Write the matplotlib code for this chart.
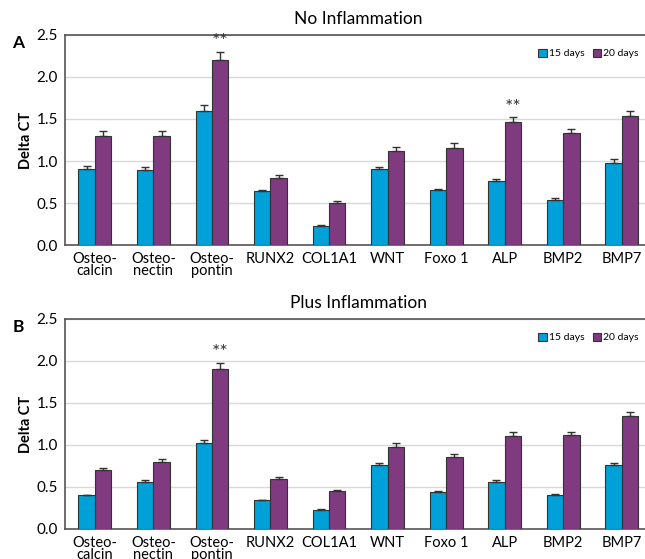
import numpy as np
import matplotlib
matplotlib.use("Agg")
import matplotlib.pyplot as plt

plt.rcParams["font.family"] = ["Lato", "DejaVu Sans"]

genes = ["Osteo-\ncalcin", "Osteo-\nnectin", "Osteo-\npontin", "RUNX2", "COL1A1",
         "WNT", "Foxo 1", "ALP", "BMP2", "BMP7"]

# No inflammation
a_15 = [0.90, 0.89, 1.60, 0.64, 0.23, 0.90, 0.65, 0.76, 0.54, 0.98]
a_20 = [1.30, 1.30, 2.20, 0.80, 0.50, 1.12, 1.16, 1.46, 1.33, 1.54]
a_15_err = [0.04, 0.04, 0.07, 0.02, 0.005, 0.03, 0.02, 0.03, 0.02, 0.04]
a_20_err = [0.06, 0.06, 0.10, 0.03, 0.02, 0.05, 0.05, 0.06, 0.05, 0.06]
a_sig = [2, 7]

# Plus inflammation
b_15 = [0.40, 0.56, 1.02, 0.34, 0.23, 0.76, 0.44, 0.56, 0.41, 0.76]
b_20 = [0.70, 0.80, 1.90, 0.60, 0.45, 0.98, 0.86, 1.11, 1.12, 1.34]
b_15_err = [0.01, 0.02, 0.04, 0.01, 0.005, 0.03, 0.01, 0.02, 0.01, 0.03]
b_20_err = [0.03, 0.03, 0.08, 0.02, 0.015, 0.04, 0.03, 0.05, 0.04, 0.05]
b_sig = [2]

BLUE = "#00a0d8"
PURPLE = "#7f3a80"
EDGE = "#333333"


def panel(ax, v15, v20, e15, e20, sig, title, letter):
    x = np.arange(len(genes))
    w = 0.28
    ax.bar(x - w / 2, v15, w, color=BLUE, edgecolor=EDGE, linewidth=0.8,
           yerr=[np.zeros(len(e15)), e15], capsize=3,
           error_kw=dict(ecolor=EDGE, elinewidth=1, capthick=1), label="15 days", zorder=3)
    ax.bar(x + w / 2, v20, w, color=PURPLE, edgecolor=EDGE, linewidth=0.8,
           yerr=[np.zeros(len(e20)), e20], capsize=3,
           error_kw=dict(ecolor=EDGE, elinewidth=1, capthick=1), label="20 days", zorder=3)
    # significance marks above the 20-day bars
    for i in sig:
        ax.text(i + w / 2, v20[i] + e20[i] + 0.02, "**", ha="center", va="bottom",
                fontsize=14, color="#333333")

    ax.set_xlim(-0.51, 9.5)
    ax.set_ylim(0, 2.5)
    ax.set_yticks([0, 0.5, 1.0, 1.5, 2.0, 2.5])
    ax.set_yticklabels(["0.0", "0.5", "1.0", "1.5", "2.0", "2.5"])
    ax.set_xticks(x)
    ax.set_xticklabels(genes, linespacing=0.85)
    ax.tick_params(length=0, labelsize=10.5, pad=5)
    ax.tick_params(axis="y", labelsize=11)
    ax.grid(axis="y", color="#d9d9d9", linewidth=1, zorder=0)
    for s in ["left", "top", "bottom"]:
        ax.spines[s].set_color("#555555")
        ax.spines[s].set_linewidth(1.2)
    ax.spines["right"].set_visible(False)
    ax.set_ylabel("Delta CT", fontweight="bold", fontsize=10.5, labelpad=3)
    ax.set_title(title, fontsize=12.5, pad=8)
    ax.text(-0.08, 1.0, letter, transform=ax.transAxes, fontsize=12.5,
            fontweight="bold", ha="center", va="top")
    ax.legend(loc="upper right", bbox_to_anchor=(0.995, 0.98), ncol=2, frameon=False,
              fontsize=7.5, handlelength=0.8, handleheight=0.8, handletextpad=0.2,
              columnspacing=0.8)


fig = plt.figure(figsize=(6.45, 5.59), dpi=100)
ax1 = fig.add_axes([0.1008, 0.5617, 0.9085, 0.3757])
ax2 = fig.add_axes([0.1008, 0.0537, 0.9085, 0.3757])

panel(ax1, a_15, a_20, a_15_err, a_20_err, a_sig, "No Inflammation", "A")
panel(ax2, b_15, b_20, b_15_err, b_20_err, b_sig, "Plus Inflammation", "B")

fig.savefig("out.png", dpi=100)
